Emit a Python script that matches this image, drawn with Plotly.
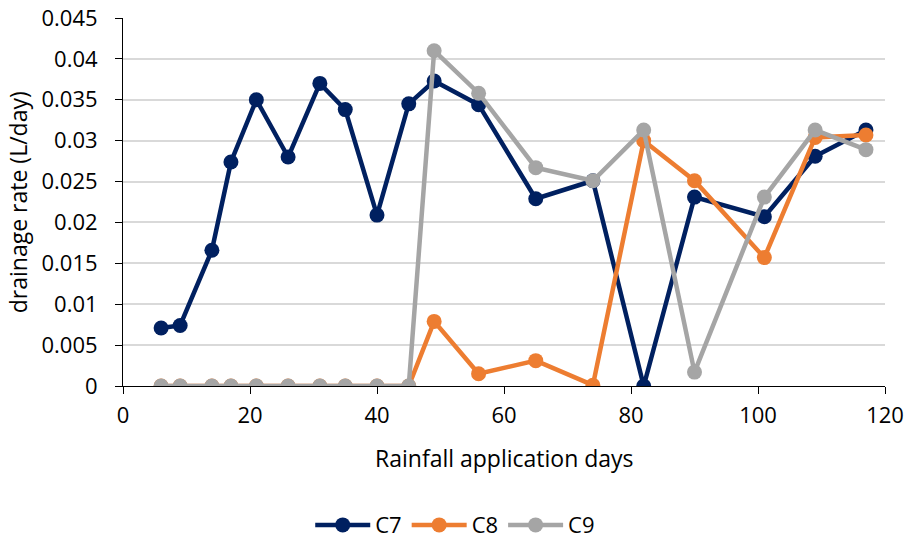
import plotly.graph_objects as go

days = [6, 9, 14, 17, 21, 26, 31, 35, 40, 45, 49, 56, 65, 74, 82, 90, 101, 109, 117]
c7 = [0.0071, 0.0074, 0.0166, 0.0274, 0.0350, 0.0280, 0.0370, 0.0338, 0.0209, 0.0345,
      0.0373, 0.0344, 0.0229, 0.0251, 0.0, 0.0231, 0.0207, 0.0281, 0.0313]
c8 = [0, 0, 0, 0, 0, 0, 0, 0, 0, 0,
      0.0079, 0.0015, 0.0031, 0.0001, 0.0300, 0.0251, 0.0157, 0.0304, 0.0307]
c9 = [0, 0, 0, 0, 0, 0, 0, 0, 0, 0,
      0.0410, 0.0358, 0.0267, 0.0251, 0.0313, 0.0017, 0.0231, 0.0313, 0.0289]

series = [("C7", c7, "#002060"), ("C8", c8, "#ED7D31"), ("C9", c9, "#A5A5A5")]

fig = go.Figure()
for name, vals, col in series:
    fig.add_trace(go.Scatter(x=days, y=vals, name=name, mode="lines+markers",
                             line=dict(color=col, width=4.5),
                             marker=dict(color=col, size=15)))

font = "Open Sans, sans-serif"
fig.update_layout(
    width=908, height=545,
    margin=dict(l=123, r=23, t=18, b=159, autoexpand=False),
    plot_bgcolor="white", paper_bgcolor="white",
    font=dict(family=font, size=22, color="#000000"),
    showlegend=True,
    legend=dict(orientation="h", x=0.436, xanchor="center", y=-0.378, yanchor="middle",
                font=dict(size=22), itemwidth=55, traceorder="normal"),
    xaxis=dict(range=[0, 120], dtick=20, showgrid=False, zeroline=False,
               showline=True, linecolor="black", linewidth=1, automargin=False,
               ticks="outside", ticklen=7, tickcolor="black", ticklabelstandoff=3),
    yaxis=dict(range=[0, 0.045], dtick=0.005, showgrid=True, gridcolor="#D9D9D9", gridwidth=2,
               zeroline=False, showline=True, linecolor="black", linewidth=1, automargin=False,
               ticks="outside", ticklen=7, tickcolor="black", ticklabelstandoff=13),
    annotations=[
        dict(text="Rainfall application days", xref="paper", yref="paper", x=0.5, y=-0.1957,
             xanchor="center", yanchor="middle", showarrow=False, font=dict(size=23)),
        dict(text="drainage rate (L/day)", xref="paper", yref="paper", x=-0.1375, y=0.5,
             xanchor="center", yanchor="middle", textangle=-90, showarrow=False,
             font=dict(size=23)),
    ],
)
fig.write_html("out.html")
